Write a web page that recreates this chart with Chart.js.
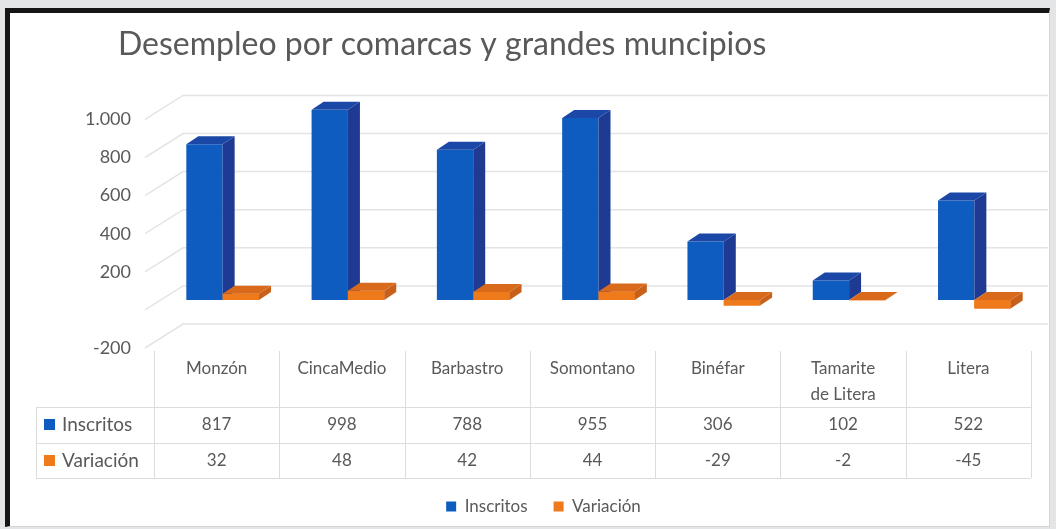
<!DOCTYPE html>
<html>
<head>
<meta charset="utf-8">
<script src="https://cdn.jsdelivr.net/npm/chart.js@4.4.0/dist/chart.umd.min.js"></script>
<style>
  html, body { margin: 0; padding: 0; background: #e4e5e7; }
  #frame {
    position: absolute; left: 5px; top: 8px; width: 1045px; height: 519px;
    box-sizing: border-box; background: #fff;
    border-left: 5px solid #151515; border-top: 5px solid #151515;
    border-right: 1px solid #d4d4d4; border-bottom: 1px solid #d4d4d4;
  }
  #myChart { position: absolute; left: 0; top: 0; }
</style>
</head>
<body>
<div id="frame"></div>
<canvas id="myChart" width="1056" height="529"></canvas>
<script>
// datos
const categories = ['Monzón', 'CincaMedio', 'Barbastro', 'Somontano', 'Binéfar', ['Tamarite', 'de Litera'], 'Litera'];
const inscritos = [817, 998, 788, 955, 306, 102, 522];
const variacion = [32, 48, 42, 44, -29, -2, -45];
const seriesNames = ['Inscritos', 'Variación'];
const yMin = -200, yMax = 1000, yStep = 200;

const frontColors = ['#0f5cc0', '#ee7a1c'];
const sideColors = ['#1f3a92', '#c9601a'];
const topColors = ['#1b47a6', '#d96a1c'];
const textColor = '#595959';
const FONT = 'Lato, "Open Sans", sans-serif';
const depthX = 12, depthY = -8;
const tableShift = -6;

Chart.defaults.font.family = FONT;
Chart.defaults.color = textColor;

function fmt(v){
  return String(v).replace(/\B(?=(\d{3})+(?!\d))/g, '.');
}

function poly(ctx, pts, color){
  ctx.fillStyle = color;
  ctx.beginPath();
  ctx.moveTo(pts[0][0], pts[0][1]);
  for (let i = 1; i < pts.length; i++) ctx.lineTo(pts[i][0], pts[i][1]);
  ctx.closePath();
  ctx.fill();
}

function faces(ctx, bar, idx){
  const l = bar.x - bar.width / 2, r = bar.x + bar.width / 2;
  const t = Math.min(bar.y, bar.base), b = Math.max(bar.y, bar.base);
  poly(ctx, [[r, t], [r + depthX, t + depthY], [r + depthX, b + depthY], [r, b]], sideColors[idx]);
  poly(ctx, [[l, t], [l + depthX, t + depthY], [r + depthX, t + depthY], [r, t]], topColors[idx]);
}

// pared del fondo
const wallPlugin = {
  id: 'wall',
  beforeDatasetsDraw(chart){
    const {ctx, chartArea: a, scales: {y}} = chart;
    ctx.save();
    ctx.strokeStyle = '#e4e4e4';
    ctx.lineWidth = 1.5;
    y.ticks.forEach(t => {
      const py = y.getPixelForValue(t.value);
      ctx.beginPath();
      ctx.moveTo(a.left - 15, py + 10);
      ctx.lineTo(a.left + 23, py - 14);
      ctx.lineTo(a.right + 11, py - 14);
      ctx.stroke();
    });
    ctx.restore();
  }
};

// efecto 3D
const bars3dPlugin = {
  id: 'bars3d',
  afterDatasetsDraw(chart){
    const ctx = chart.ctx;
    ctx.save();
    chart.getDatasetMeta(0).data.forEach(b => faces(ctx, b, 0));
    chart.getDatasetMeta(1).data.forEach(b => { b.draw(ctx); faces(ctx, b, 1); });
    ctx.restore();
  }
};

// tabla de datos
const tablePlugin = {
  id: 'dataTable',
  afterDraw(chart){
    const {ctx, chartArea: a, scales: {x}} = chart;
    const half = (x.getPixelForValue(1) - x.getPixelForValue(0)) / 2;
    const top = a.bottom + 13, r1 = a.bottom + 69, r2 = r1 + 36, r3 = r2 + 35;
    const tl = a.left - 124;
    const first = x.getPixelForValue(0) - half + tableShift;
    const last = x.getPixelForValue(categories.length - 1) + half + tableShift;
    ctx.save();
    ctx.strokeStyle = '#dcdcdc';
    ctx.lineWidth = 1;
    ctx.beginPath();
    [r1, r2, r3].forEach(yy => { ctx.moveTo(tl, yy + 0.5); ctx.lineTo(last, yy + 0.5); });
    ctx.moveTo(tl + 0.5, r1); ctx.lineTo(tl + 0.5, r3);
    for (let i = 0; i <= categories.length; i++) {
      const xx = Math.round(first + i * half * 2) + 0.5;
      ctx.moveTo(xx, top); ctx.lineTo(xx, r3);
    }
    ctx.stroke();

    const rows = [inscritos, variacion];
    const rowTops = [r1, r2];
    ctx.textBaseline = 'middle';
    rows.forEach((vals, k) => {
      const cy = rowTops[k] + 18;
      ctx.fillStyle = frontColors[k];
      ctx.fillRect(tl + 8, cy - 6, 11, 11);
      ctx.fillStyle = textColor;
      ctx.textAlign = 'left';
      ctx.font = '19px ' + FONT;
      ctx.fillText(seriesNames[k], tl + 26, cy);
      ctx.textAlign = 'center';
      ctx.font = '17px ' + FONT;
      vals.forEach((v, i) => {
        ctx.fillText(String(v), x.getPixelForValue(i) + tableShift, cy);
      });
    });
    ctx.restore();
  }
};

// mover título y leyenda
const shiftPlugin = {
  id: 'shift',
  afterLayout(chart){
    chart.titleBlock.left += 108;
    chart.titleBlock.right += 108;
    chart.legend.left += 20;
    chart.legend.right += 20;
  }
};

let ctx = document.getElementById('myChart');
let myChart = new Chart(ctx, {
  type: 'bar',
  data: {
    labels: categories,
    datasets: [{
      label: seriesNames[0],
      data: inscritos,
      backgroundColor: frontColors[0],
      borderWidth: 0
    }, {
      label: seriesNames[1],
      data: variacion,
      backgroundColor: frontColors[1],
      borderWidth: 0
    }]
  },
  options: {
    responsive: false,
    animation: false,
    categoryPercentage: 0.58,
    barPercentage: 1,
    layout: {
      padding: { top: 13, left: 10, right: 19, bottom: 4 }
    },
    plugins: {
      tooltip: { enabled: false },
      title: {
        display: true,
        text: 'Desempleo por comarcas y grandes muncipios',
        align: 'start',
        color: textColor,
        font: { size: 32, weight: 'normal' },
        padding: { top: 12, bottom: 46 }
      },
      legend: {
        position: 'bottom',
        labels: {
          boxWidth: 10,
          boxHeight: 10,
          padding: 26,
          color: textColor,
          font: { size: 17 },
          sort: (a, b) => a.datasetIndex - b.datasetIndex
        }
      }
    },
    scales: {
      x: {
        grid: { display: false, drawTicks: false },
        border: { display: false },
        ticks: { padding: 17, labelOffset: tableShift, font: { size: 17, lineHeight: 1.55 }, color: textColor },
        afterFit(scale){ scale.height = 134; }
      },
      y: {
        min: yMin,
        max: yMax,
        grid: { display: false, drawTicks: false },
        border: { display: false },
        ticks: {
          stepSize: yStep,
          padding: 29,
          labelOffset: 10,
          font: { size: 18 },
          color: textColor,
          callback: v => v === 0 ? '' : fmt(v)
        },
        afterFit(scale){ scale.width = 150; }
      }
    }
  },
  plugins: [wallPlugin, bars3dPlugin, tablePlugin, shiftPlugin]
});
</script>
</body>
</html>
